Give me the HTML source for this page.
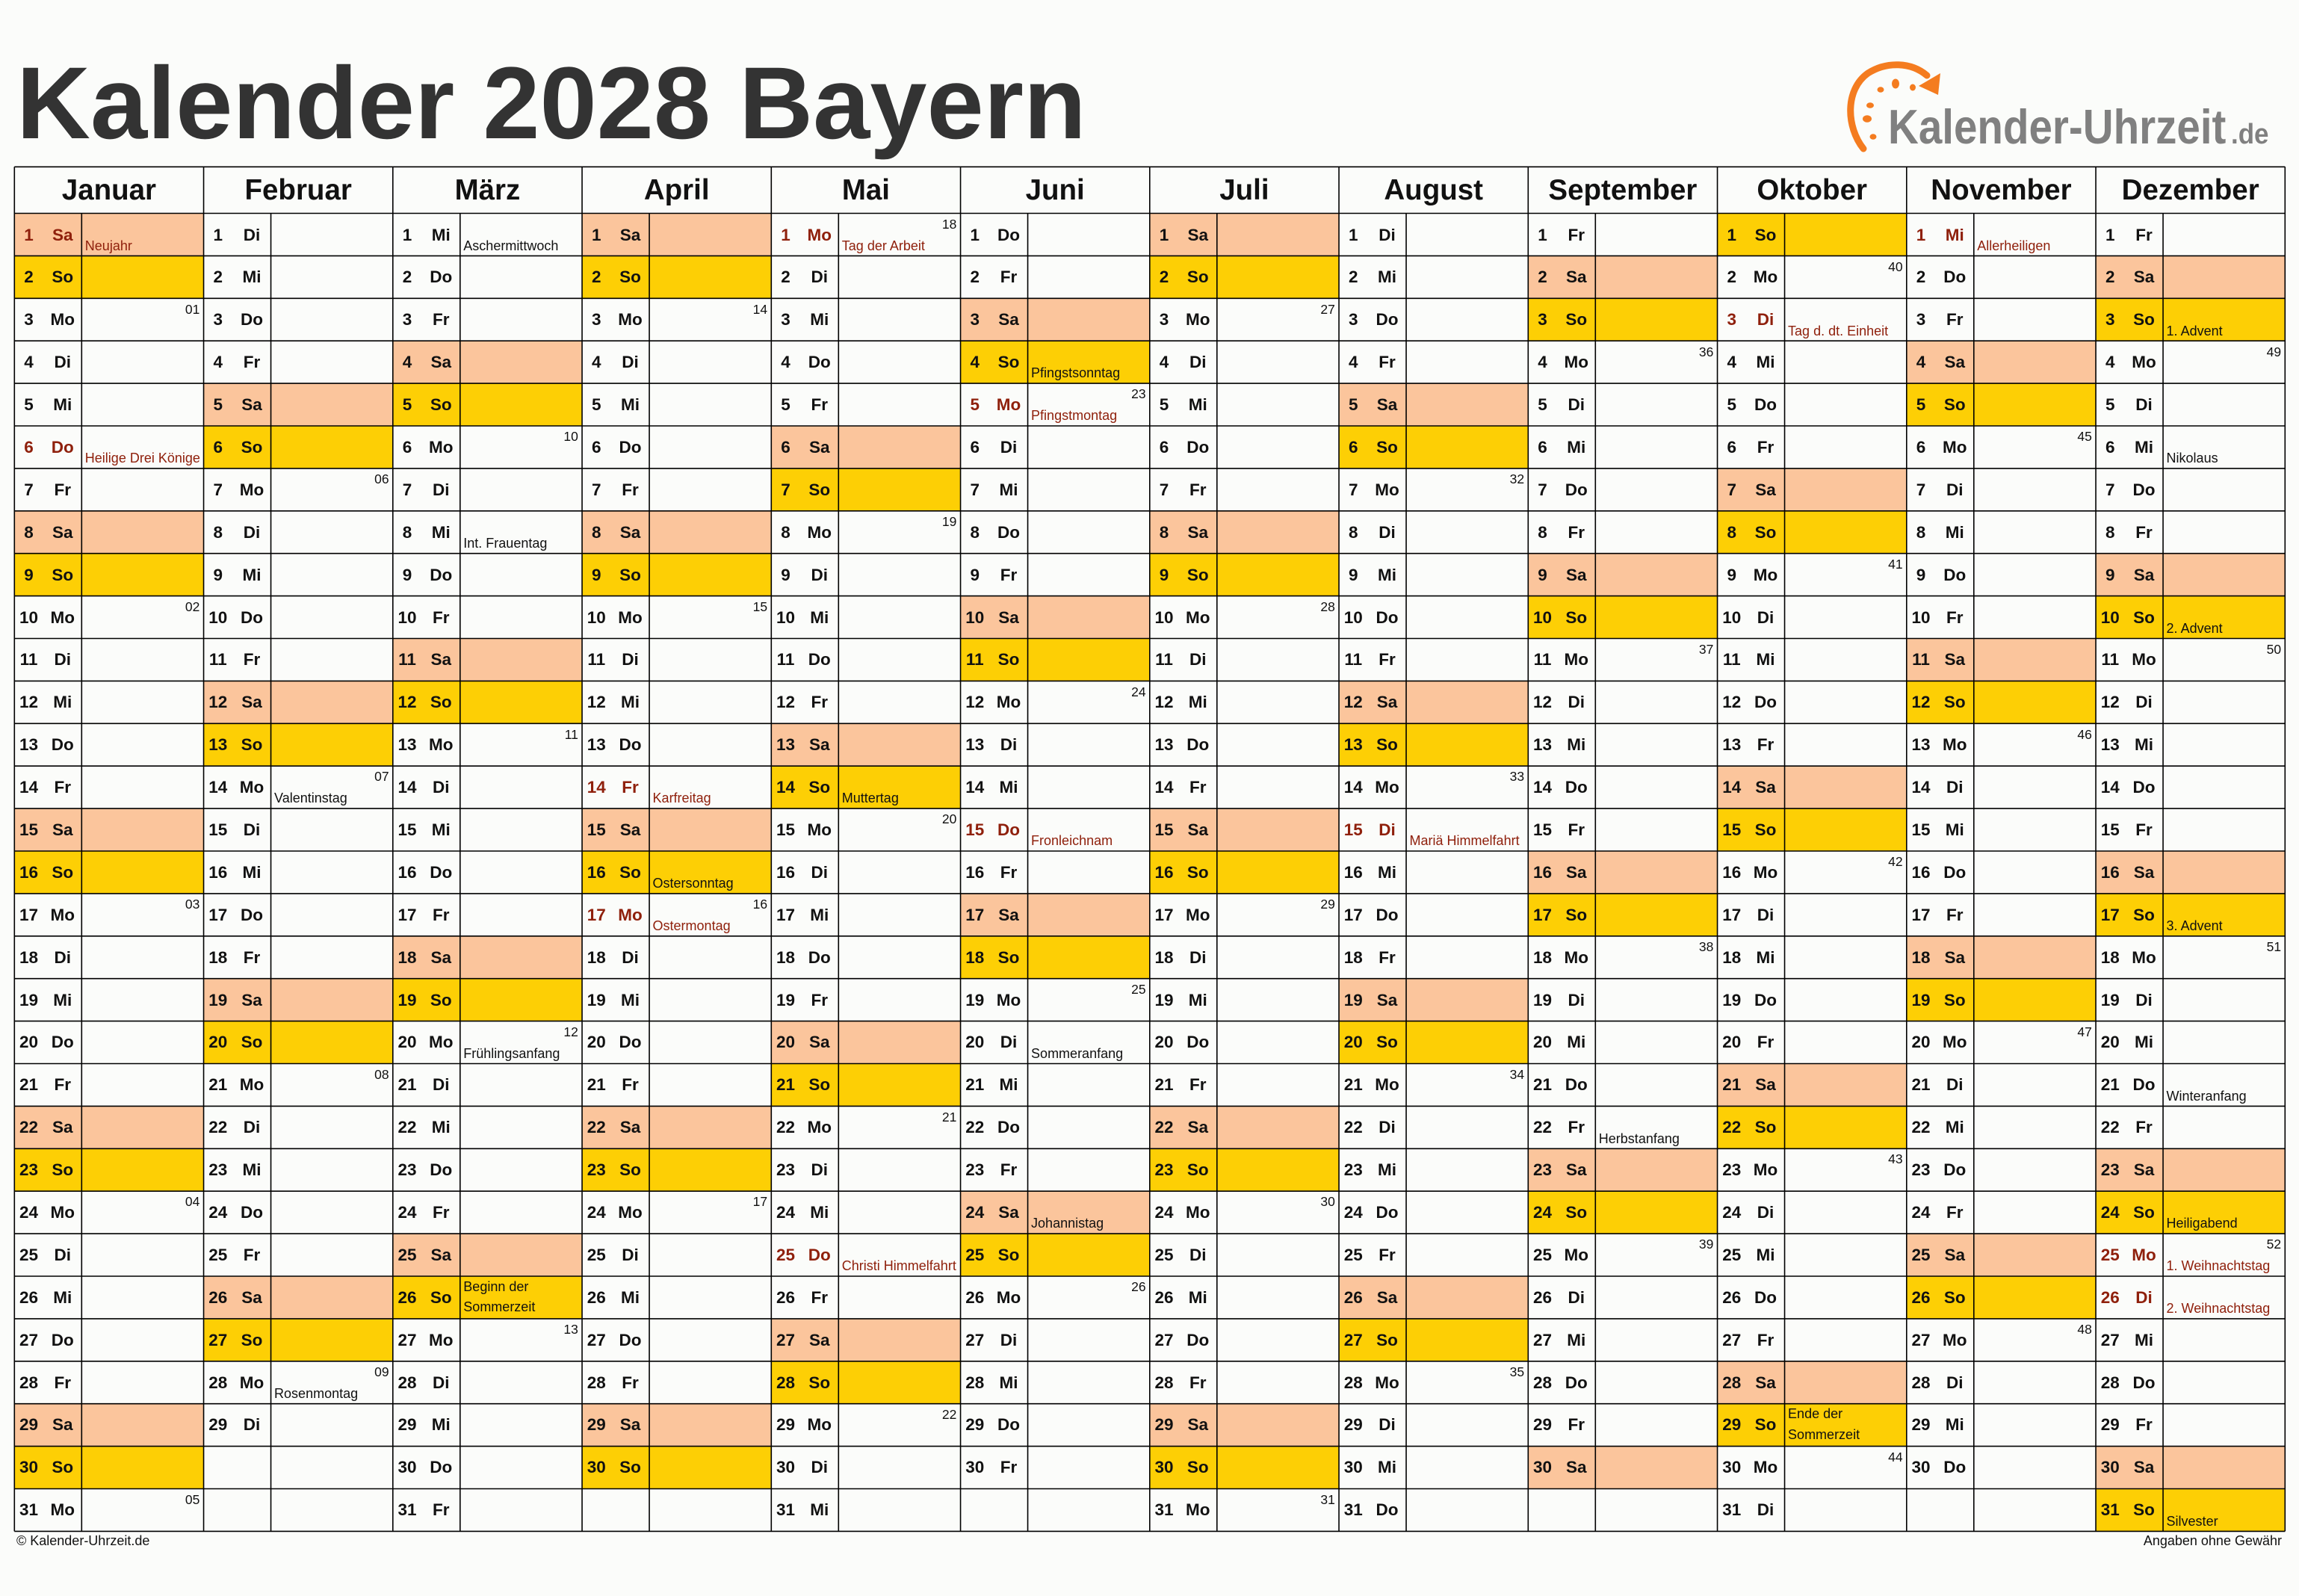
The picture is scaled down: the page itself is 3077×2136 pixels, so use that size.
<!DOCTYPE html>
<html lang="de">
<head>
<meta charset="utf-8">
<title>Kalender 2028 Bayern</title>
<style>
html,body{margin:0;padding:0}
body{width:3077px;height:2136px;background:#fbfcfa;position:relative;overflow:hidden;font-family:"Liberation Sans",Arial,sans-serif;color:#111}
.t{position:absolute;left:22px;top:70px;font-size:137px;line-height:137px;font-weight:bold;color:#333;white-space:nowrap}
.hd{position:absolute;top:223.3px;width:253.25px;height:62.2px;text-align:center;font-size:38.5px;line-height:63.3px;font-weight:bold;color:#111}
.m{position:absolute;top:285.5px;width:253.25px}
.m p{margin:0;height:56.9px;position:relative}
.m b,.m i{position:absolute;top:0;font-size:22.5px;line-height:57.4px;font-weight:bold;font-style:normal;text-align:center;white-space:nowrap}
.m b{left:0;width:38.4px}
.m i{left:44px;width:41px}
.m u{position:absolute;left:94.5px;top:33.3px;font-size:18px;line-height:20px;text-decoration:none;white-space:nowrap}
.m u.w{top:1px;line-height:27.5px}
.m s{position:absolute;right:5.2px;top:4.4px;font-size:17.5px;line-height:20px;text-decoration:none}
.a{background:#fbc59c}
.o{background:#fdcf05}
.h b,.h i,.h u{color:#8f200c}
.f{position:absolute;top:2051.8px;font-size:18px;line-height:20px;white-space:nowrap;color:#111}
svg{position:absolute;left:0;top:0}
</style>
</head>
<body>
<div class="t">Kalender 2028 Bayern</div>

<div class="hd" style="left:19.3px">Januar</div>
<div class="hd" style="left:272.55px">Februar</div>
<div class="hd" style="left:525.8px">März</div>
<div class="hd" style="left:779.05px">April</div>
<div class="hd" style="left:1032.3px">Mai</div>
<div class="hd" style="left:1285.55px">Juni</div>
<div class="hd" style="left:1538.8px">Juli</div>
<div class="hd" style="left:1792.05px">August</div>
<div class="hd" style="left:2045.3px">September</div>
<div class="hd" style="left:2298.55px">Oktober</div>
<div class="hd" style="left:2551.8px">November</div>
<div class="hd" style="left:2805.05px">Dezember</div>

<!-- Januar -->
<div class="m" style="left:19.3px">
<p class="a h"><b>1</b><i>Sa</i><u>Neujahr</u></p>
<p class="o"><b>2</b><i>So</i></p>
<p><b>3</b><i>Mo</i><s>01</s></p>
<p><b>4</b><i>Di</i></p>
<p><b>5</b><i>Mi</i></p>
<p class="h"><b>6</b><i>Do</i><u>Heilige Drei Könige</u></p>
<p><b>7</b><i>Fr</i></p>
<p class="a"><b>8</b><i>Sa</i></p>
<p class="o"><b>9</b><i>So</i></p>
<p><b>10</b><i>Mo</i><s>02</s></p>
<p><b>11</b><i>Di</i></p>
<p><b>12</b><i>Mi</i></p>
<p><b>13</b><i>Do</i></p>
<p><b>14</b><i>Fr</i></p>
<p class="a"><b>15</b><i>Sa</i></p>
<p class="o"><b>16</b><i>So</i></p>
<p><b>17</b><i>Mo</i><s>03</s></p>
<p><b>18</b><i>Di</i></p>
<p><b>19</b><i>Mi</i></p>
<p><b>20</b><i>Do</i></p>
<p><b>21</b><i>Fr</i></p>
<p class="a"><b>22</b><i>Sa</i></p>
<p class="o"><b>23</b><i>So</i></p>
<p><b>24</b><i>Mo</i><s>04</s></p>
<p><b>25</b><i>Di</i></p>
<p><b>26</b><i>Mi</i></p>
<p><b>27</b><i>Do</i></p>
<p><b>28</b><i>Fr</i></p>
<p class="a"><b>29</b><i>Sa</i></p>
<p class="o"><b>30</b><i>So</i></p>
<p><b>31</b><i>Mo</i><s>05</s></p>
</div>

<!-- Februar -->
<div class="m" style="left:272.55px">
<p><b>1</b><i>Di</i></p>
<p><b>2</b><i>Mi</i></p>
<p><b>3</b><i>Do</i></p>
<p><b>4</b><i>Fr</i></p>
<p class="a"><b>5</b><i>Sa</i></p>
<p class="o"><b>6</b><i>So</i></p>
<p><b>7</b><i>Mo</i><s>06</s></p>
<p><b>8</b><i>Di</i></p>
<p><b>9</b><i>Mi</i></p>
<p><b>10</b><i>Do</i></p>
<p><b>11</b><i>Fr</i></p>
<p class="a"><b>12</b><i>Sa</i></p>
<p class="o"><b>13</b><i>So</i></p>
<p><b>14</b><i>Mo</i><s>07</s><u>Valentinstag</u></p>
<p><b>15</b><i>Di</i></p>
<p><b>16</b><i>Mi</i></p>
<p><b>17</b><i>Do</i></p>
<p><b>18</b><i>Fr</i></p>
<p class="a"><b>19</b><i>Sa</i></p>
<p class="o"><b>20</b><i>So</i></p>
<p><b>21</b><i>Mo</i><s>08</s></p>
<p><b>22</b><i>Di</i></p>
<p><b>23</b><i>Mi</i></p>
<p><b>24</b><i>Do</i></p>
<p><b>25</b><i>Fr</i></p>
<p class="a"><b>26</b><i>Sa</i></p>
<p class="o"><b>27</b><i>So</i></p>
<p><b>28</b><i>Mo</i><s>09</s><u>Rosenmontag</u></p>
<p><b>29</b><i>Di</i></p>
<p></p>
<p></p>
</div>

<!-- März -->
<div class="m" style="left:525.8px">
<p><b>1</b><i>Mi</i><u>Aschermittwoch</u></p>
<p><b>2</b><i>Do</i></p>
<p><b>3</b><i>Fr</i></p>
<p class="a"><b>4</b><i>Sa</i></p>
<p class="o"><b>5</b><i>So</i></p>
<p><b>6</b><i>Mo</i><s>10</s></p>
<p><b>7</b><i>Di</i></p>
<p><b>8</b><i>Mi</i><u>Int. Frauentag</u></p>
<p><b>9</b><i>Do</i></p>
<p><b>10</b><i>Fr</i></p>
<p class="a"><b>11</b><i>Sa</i></p>
<p class="o"><b>12</b><i>So</i></p>
<p><b>13</b><i>Mo</i><s>11</s></p>
<p><b>14</b><i>Di</i></p>
<p><b>15</b><i>Mi</i></p>
<p><b>16</b><i>Do</i></p>
<p><b>17</b><i>Fr</i></p>
<p class="a"><b>18</b><i>Sa</i></p>
<p class="o"><b>19</b><i>So</i></p>
<p><b>20</b><i>Mo</i><s>12</s><u>Frühlingsanfang</u></p>
<p><b>21</b><i>Di</i></p>
<p><b>22</b><i>Mi</i></p>
<p><b>23</b><i>Do</i></p>
<p><b>24</b><i>Fr</i></p>
<p class="a"><b>25</b><i>Sa</i></p>
<p class="o"><b>26</b><i>So</i><u class="w">Beginn der<br>Sommerzeit</u></p>
<p><b>27</b><i>Mo</i><s>13</s></p>
<p><b>28</b><i>Di</i></p>
<p><b>29</b><i>Mi</i></p>
<p><b>30</b><i>Do</i></p>
<p><b>31</b><i>Fr</i></p>
</div>

<!-- April -->
<div class="m" style="left:779.05px">
<p class="a"><b>1</b><i>Sa</i></p>
<p class="o"><b>2</b><i>So</i></p>
<p><b>3</b><i>Mo</i><s>14</s></p>
<p><b>4</b><i>Di</i></p>
<p><b>5</b><i>Mi</i></p>
<p><b>6</b><i>Do</i></p>
<p><b>7</b><i>Fr</i></p>
<p class="a"><b>8</b><i>Sa</i></p>
<p class="o"><b>9</b><i>So</i></p>
<p><b>10</b><i>Mo</i><s>15</s></p>
<p><b>11</b><i>Di</i></p>
<p><b>12</b><i>Mi</i></p>
<p><b>13</b><i>Do</i></p>
<p class="h"><b>14</b><i>Fr</i><u>Karfreitag</u></p>
<p class="a"><b>15</b><i>Sa</i></p>
<p class="o"><b>16</b><i>So</i><u>Ostersonntag</u></p>
<p class="h"><b>17</b><i>Mo</i><s>16</s><u>Ostermontag</u></p>
<p><b>18</b><i>Di</i></p>
<p><b>19</b><i>Mi</i></p>
<p><b>20</b><i>Do</i></p>
<p><b>21</b><i>Fr</i></p>
<p class="a"><b>22</b><i>Sa</i></p>
<p class="o"><b>23</b><i>So</i></p>
<p><b>24</b><i>Mo</i><s>17</s></p>
<p><b>25</b><i>Di</i></p>
<p><b>26</b><i>Mi</i></p>
<p><b>27</b><i>Do</i></p>
<p><b>28</b><i>Fr</i></p>
<p class="a"><b>29</b><i>Sa</i></p>
<p class="o"><b>30</b><i>So</i></p>
<p></p>
</div>

<!-- Mai -->
<div class="m" style="left:1032.3px">
<p class="h"><b>1</b><i>Mo</i><s>18</s><u>Tag der Arbeit</u></p>
<p><b>2</b><i>Di</i></p>
<p><b>3</b><i>Mi</i></p>
<p><b>4</b><i>Do</i></p>
<p><b>5</b><i>Fr</i></p>
<p class="a"><b>6</b><i>Sa</i></p>
<p class="o"><b>7</b><i>So</i></p>
<p><b>8</b><i>Mo</i><s>19</s></p>
<p><b>9</b><i>Di</i></p>
<p><b>10</b><i>Mi</i></p>
<p><b>11</b><i>Do</i></p>
<p><b>12</b><i>Fr</i></p>
<p class="a"><b>13</b><i>Sa</i></p>
<p class="o"><b>14</b><i>So</i><u>Muttertag</u></p>
<p><b>15</b><i>Mo</i><s>20</s></p>
<p><b>16</b><i>Di</i></p>
<p><b>17</b><i>Mi</i></p>
<p><b>18</b><i>Do</i></p>
<p><b>19</b><i>Fr</i></p>
<p class="a"><b>20</b><i>Sa</i></p>
<p class="o"><b>21</b><i>So</i></p>
<p><b>22</b><i>Mo</i><s>21</s></p>
<p><b>23</b><i>Di</i></p>
<p><b>24</b><i>Mi</i></p>
<p class="h"><b>25</b><i>Do</i><u>Christi Himmelfahrt</u></p>
<p><b>26</b><i>Fr</i></p>
<p class="a"><b>27</b><i>Sa</i></p>
<p class="o"><b>28</b><i>So</i></p>
<p><b>29</b><i>Mo</i><s>22</s></p>
<p><b>30</b><i>Di</i></p>
<p><b>31</b><i>Mi</i></p>
</div>

<!-- Juni -->
<div class="m" style="left:1285.55px">
<p><b>1</b><i>Do</i></p>
<p><b>2</b><i>Fr</i></p>
<p class="a"><b>3</b><i>Sa</i></p>
<p class="o"><b>4</b><i>So</i><u>Pfingstsonntag</u></p>
<p class="h"><b>5</b><i>Mo</i><s>23</s><u>Pfingstmontag</u></p>
<p><b>6</b><i>Di</i></p>
<p><b>7</b><i>Mi</i></p>
<p><b>8</b><i>Do</i></p>
<p><b>9</b><i>Fr</i></p>
<p class="a"><b>10</b><i>Sa</i></p>
<p class="o"><b>11</b><i>So</i></p>
<p><b>12</b><i>Mo</i><s>24</s></p>
<p><b>13</b><i>Di</i></p>
<p><b>14</b><i>Mi</i></p>
<p class="h"><b>15</b><i>Do</i><u>Fronleichnam</u></p>
<p><b>16</b><i>Fr</i></p>
<p class="a"><b>17</b><i>Sa</i></p>
<p class="o"><b>18</b><i>So</i></p>
<p><b>19</b><i>Mo</i><s>25</s></p>
<p><b>20</b><i>Di</i><u>Sommeranfang</u></p>
<p><b>21</b><i>Mi</i></p>
<p><b>22</b><i>Do</i></p>
<p><b>23</b><i>Fr</i></p>
<p class="a"><b>24</b><i>Sa</i><u>Johannistag</u></p>
<p class="o"><b>25</b><i>So</i></p>
<p><b>26</b><i>Mo</i><s>26</s></p>
<p><b>27</b><i>Di</i></p>
<p><b>28</b><i>Mi</i></p>
<p><b>29</b><i>Do</i></p>
<p><b>30</b><i>Fr</i></p>
<p></p>
</div>

<!-- Juli -->
<div class="m" style="left:1538.8px">
<p class="a"><b>1</b><i>Sa</i></p>
<p class="o"><b>2</b><i>So</i></p>
<p><b>3</b><i>Mo</i><s>27</s></p>
<p><b>4</b><i>Di</i></p>
<p><b>5</b><i>Mi</i></p>
<p><b>6</b><i>Do</i></p>
<p><b>7</b><i>Fr</i></p>
<p class="a"><b>8</b><i>Sa</i></p>
<p class="o"><b>9</b><i>So</i></p>
<p><b>10</b><i>Mo</i><s>28</s></p>
<p><b>11</b><i>Di</i></p>
<p><b>12</b><i>Mi</i></p>
<p><b>13</b><i>Do</i></p>
<p><b>14</b><i>Fr</i></p>
<p class="a"><b>15</b><i>Sa</i></p>
<p class="o"><b>16</b><i>So</i></p>
<p><b>17</b><i>Mo</i><s>29</s></p>
<p><b>18</b><i>Di</i></p>
<p><b>19</b><i>Mi</i></p>
<p><b>20</b><i>Do</i></p>
<p><b>21</b><i>Fr</i></p>
<p class="a"><b>22</b><i>Sa</i></p>
<p class="o"><b>23</b><i>So</i></p>
<p><b>24</b><i>Mo</i><s>30</s></p>
<p><b>25</b><i>Di</i></p>
<p><b>26</b><i>Mi</i></p>
<p><b>27</b><i>Do</i></p>
<p><b>28</b><i>Fr</i></p>
<p class="a"><b>29</b><i>Sa</i></p>
<p class="o"><b>30</b><i>So</i></p>
<p><b>31</b><i>Mo</i><s>31</s></p>
</div>

<!-- August -->
<div class="m" style="left:1792.05px">
<p><b>1</b><i>Di</i></p>
<p><b>2</b><i>Mi</i></p>
<p><b>3</b><i>Do</i></p>
<p><b>4</b><i>Fr</i></p>
<p class="a"><b>5</b><i>Sa</i></p>
<p class="o"><b>6</b><i>So</i></p>
<p><b>7</b><i>Mo</i><s>32</s></p>
<p><b>8</b><i>Di</i></p>
<p><b>9</b><i>Mi</i></p>
<p><b>10</b><i>Do</i></p>
<p><b>11</b><i>Fr</i></p>
<p class="a"><b>12</b><i>Sa</i></p>
<p class="o"><b>13</b><i>So</i></p>
<p><b>14</b><i>Mo</i><s>33</s></p>
<p class="h"><b>15</b><i>Di</i><u>Mariä Himmelfahrt</u></p>
<p><b>16</b><i>Mi</i></p>
<p><b>17</b><i>Do</i></p>
<p><b>18</b><i>Fr</i></p>
<p class="a"><b>19</b><i>Sa</i></p>
<p class="o"><b>20</b><i>So</i></p>
<p><b>21</b><i>Mo</i><s>34</s></p>
<p><b>22</b><i>Di</i></p>
<p><b>23</b><i>Mi</i></p>
<p><b>24</b><i>Do</i></p>
<p><b>25</b><i>Fr</i></p>
<p class="a"><b>26</b><i>Sa</i></p>
<p class="o"><b>27</b><i>So</i></p>
<p><b>28</b><i>Mo</i><s>35</s></p>
<p><b>29</b><i>Di</i></p>
<p><b>30</b><i>Mi</i></p>
<p><b>31</b><i>Do</i></p>
</div>

<!-- September -->
<div class="m" style="left:2045.3px">
<p><b>1</b><i>Fr</i></p>
<p class="a"><b>2</b><i>Sa</i></p>
<p class="o"><b>3</b><i>So</i></p>
<p><b>4</b><i>Mo</i><s>36</s></p>
<p><b>5</b><i>Di</i></p>
<p><b>6</b><i>Mi</i></p>
<p><b>7</b><i>Do</i></p>
<p><b>8</b><i>Fr</i></p>
<p class="a"><b>9</b><i>Sa</i></p>
<p class="o"><b>10</b><i>So</i></p>
<p><b>11</b><i>Mo</i><s>37</s></p>
<p><b>12</b><i>Di</i></p>
<p><b>13</b><i>Mi</i></p>
<p><b>14</b><i>Do</i></p>
<p><b>15</b><i>Fr</i></p>
<p class="a"><b>16</b><i>Sa</i></p>
<p class="o"><b>17</b><i>So</i></p>
<p><b>18</b><i>Mo</i><s>38</s></p>
<p><b>19</b><i>Di</i></p>
<p><b>20</b><i>Mi</i></p>
<p><b>21</b><i>Do</i></p>
<p><b>22</b><i>Fr</i><u>Herbstanfang</u></p>
<p class="a"><b>23</b><i>Sa</i></p>
<p class="o"><b>24</b><i>So</i></p>
<p><b>25</b><i>Mo</i><s>39</s></p>
<p><b>26</b><i>Di</i></p>
<p><b>27</b><i>Mi</i></p>
<p><b>28</b><i>Do</i></p>
<p><b>29</b><i>Fr</i></p>
<p class="a"><b>30</b><i>Sa</i></p>
<p></p>
</div>

<!-- Oktober -->
<div class="m" style="left:2298.55px">
<p class="o"><b>1</b><i>So</i></p>
<p><b>2</b><i>Mo</i><s>40</s></p>
<p class="h"><b>3</b><i>Di</i><u>Tag d. dt. Einheit</u></p>
<p><b>4</b><i>Mi</i></p>
<p><b>5</b><i>Do</i></p>
<p><b>6</b><i>Fr</i></p>
<p class="a"><b>7</b><i>Sa</i></p>
<p class="o"><b>8</b><i>So</i></p>
<p><b>9</b><i>Mo</i><s>41</s></p>
<p><b>10</b><i>Di</i></p>
<p><b>11</b><i>Mi</i></p>
<p><b>12</b><i>Do</i></p>
<p><b>13</b><i>Fr</i></p>
<p class="a"><b>14</b><i>Sa</i></p>
<p class="o"><b>15</b><i>So</i></p>
<p><b>16</b><i>Mo</i><s>42</s></p>
<p><b>17</b><i>Di</i></p>
<p><b>18</b><i>Mi</i></p>
<p><b>19</b><i>Do</i></p>
<p><b>20</b><i>Fr</i></p>
<p class="a"><b>21</b><i>Sa</i></p>
<p class="o"><b>22</b><i>So</i></p>
<p><b>23</b><i>Mo</i><s>43</s></p>
<p><b>24</b><i>Di</i></p>
<p><b>25</b><i>Mi</i></p>
<p><b>26</b><i>Do</i></p>
<p><b>27</b><i>Fr</i></p>
<p class="a"><b>28</b><i>Sa</i></p>
<p class="o"><b>29</b><i>So</i><u class="w">Ende der<br>Sommerzeit</u></p>
<p><b>30</b><i>Mo</i><s>44</s></p>
<p><b>31</b><i>Di</i></p>
</div>

<!-- November -->
<div class="m" style="left:2551.8px">
<p class="h"><b>1</b><i>Mi</i><u>Allerheiligen</u></p>
<p><b>2</b><i>Do</i></p>
<p><b>3</b><i>Fr</i></p>
<p class="a"><b>4</b><i>Sa</i></p>
<p class="o"><b>5</b><i>So</i></p>
<p><b>6</b><i>Mo</i><s>45</s></p>
<p><b>7</b><i>Di</i></p>
<p><b>8</b><i>Mi</i></p>
<p><b>9</b><i>Do</i></p>
<p><b>10</b><i>Fr</i></p>
<p class="a"><b>11</b><i>Sa</i></p>
<p class="o"><b>12</b><i>So</i></p>
<p><b>13</b><i>Mo</i><s>46</s></p>
<p><b>14</b><i>Di</i></p>
<p><b>15</b><i>Mi</i></p>
<p><b>16</b><i>Do</i></p>
<p><b>17</b><i>Fr</i></p>
<p class="a"><b>18</b><i>Sa</i></p>
<p class="o"><b>19</b><i>So</i></p>
<p><b>20</b><i>Mo</i><s>47</s></p>
<p><b>21</b><i>Di</i></p>
<p><b>22</b><i>Mi</i></p>
<p><b>23</b><i>Do</i></p>
<p><b>24</b><i>Fr</i></p>
<p class="a"><b>25</b><i>Sa</i></p>
<p class="o"><b>26</b><i>So</i></p>
<p><b>27</b><i>Mo</i><s>48</s></p>
<p><b>28</b><i>Di</i></p>
<p><b>29</b><i>Mi</i></p>
<p><b>30</b><i>Do</i></p>
<p></p>
</div>

<!-- Dezember -->
<div class="m" style="left:2805.05px">
<p><b>1</b><i>Fr</i></p>
<p class="a"><b>2</b><i>Sa</i></p>
<p class="o"><b>3</b><i>So</i><u>1. Advent</u></p>
<p><b>4</b><i>Mo</i><s>49</s></p>
<p><b>5</b><i>Di</i></p>
<p><b>6</b><i>Mi</i><u>Nikolaus</u></p>
<p><b>7</b><i>Do</i></p>
<p><b>8</b><i>Fr</i></p>
<p class="a"><b>9</b><i>Sa</i></p>
<p class="o"><b>10</b><i>So</i><u>2. Advent</u></p>
<p><b>11</b><i>Mo</i><s>50</s></p>
<p><b>12</b><i>Di</i></p>
<p><b>13</b><i>Mi</i></p>
<p><b>14</b><i>Do</i></p>
<p><b>15</b><i>Fr</i></p>
<p class="a"><b>16</b><i>Sa</i></p>
<p class="o"><b>17</b><i>So</i><u>3. Advent</u></p>
<p><b>18</b><i>Mo</i><s>51</s></p>
<p><b>19</b><i>Di</i></p>
<p><b>20</b><i>Mi</i></p>
<p><b>21</b><i>Do</i><u>Winteranfang</u></p>
<p><b>22</b><i>Fr</i></p>
<p class="a"><b>23</b><i>Sa</i></p>
<p class="o"><b>24</b><i>So</i><u>Heiligabend</u></p>
<p class="h"><b>25</b><i>Mo</i><s>52</s><u>1. Weihnachtstag</u></p>
<p class="h"><b>26</b><i>Di</i><u>2. Weihnachtstag</u></p>
<p><b>27</b><i>Mi</i></p>
<p><b>28</b><i>Do</i></p>
<p><b>29</b><i>Fr</i></p>
<p class="a"><b>30</b><i>Sa</i></p>
<p class="o"><b>31</b><i>So</i><u>Silvester</u></p>
</div>

<div class="f" style="left:22px">© Kalender-Uhrzeit.de</div>
<div class="f" style="right:23px">Angaben ohne Gewähr</div>

<svg width="3077" height="2136" viewBox="0 0 3077 2136">
<g fill="none" stroke="#000" stroke-width="1.6">
<path d="M19.3 223.3H3058.3M19.3 285.5H3058.3M19.3 342.4H3058.3M19.3 399.3H3058.3M19.3 456.2H3058.3M19.3 513.1H3058.3M19.3 570H3058.3M19.3 626.9H3058.3M19.3 683.8H3058.3M19.3 740.7H3058.3M19.3 797.6H3058.3M19.3 854.5H3058.3M19.3 911.4H3058.3M19.3 968.3H3058.3M19.3 1025.2H3058.3M19.3 1082.1H3058.3M19.3 1139H3058.3M19.3 1195.9H3058.3M19.3 1252.8H3058.3M19.3 1309.7H3058.3M19.3 1366.6H3058.3M19.3 1423.5H3058.3M19.3 1480.4H3058.3M19.3 1537.3H3058.3M19.3 1594.2H3058.3M19.3 1651.1H3058.3M19.3 1708H3058.3M19.3 1764.9H3058.3M19.3 1821.8H3058.3M19.3 1878.7H3058.3M19.3 1935.6H3058.3M19.3 1992.5H3058.3M19.3 2049.4H3058.3"/>
<path d="M19.3 223.3V2049.4M272.55 223.3V2049.4M525.8 223.3V2049.4M779.05 223.3V2049.4M1032.3 223.3V2049.4M1285.55 223.3V2049.4M1538.8 223.3V2049.4M1792.05 223.3V2049.4M2045.3 223.3V2049.4M2298.55 223.3V2049.4M2551.8 223.3V2049.4M2805.05 223.3V2049.4M3058.3 223.3V2049.4"/>
<path d="M109.3 285.5V2049.4M362.55 285.5V2049.4M615.8 285.5V2049.4M869.05 285.5V2049.4M1122.3 285.5V2049.4M1375.55 285.5V2049.4M1628.8 285.5V2049.4M1882.05 285.5V2049.4M2135.3 285.5V2049.4M2388.55 285.5V2049.4M2641.8 285.5V2049.4M2895.05 285.5V2049.4"/>
</g>
<!-- Logo -->
<g fill="#f47c20">
<path d="M2494 199 C2471 170 2469 120 2500 98 C2525 82 2558 83 2579 101" fill="none" stroke="#f47c20" stroke-width="9" stroke-linecap="round"/>
<polygon points="2568,115 2597,98 2594,127"/>
<ellipse cx="2517" cy="120" rx="4.5" ry="3.8"/>
<ellipse cx="2537" cy="112" rx="5" ry="6.5"/>
<ellipse cx="2560" cy="117" rx="4" ry="4.5"/>
<ellipse cx="2503" cy="141" rx="5" ry="3.8"/>
<ellipse cx="2499" cy="159" rx="6" ry="4.8"/>
<ellipse cx="2507" cy="183" rx="4.5" ry="3.8"/>
</g>
<text transform="translate(2527 192) scale(0.87 1)" x="0" y="0" font-family="Liberation Sans, Arial, sans-serif" font-size="65" font-weight="bold" fill="#808080">Kalender-Uhrzeit</text>
<text transform="translate(2986 192) scale(0.92 1)" x="0" y="0" font-family="Liberation Sans, Arial, sans-serif" font-size="38" font-weight="bold" fill="#808080">.de</text>
</svg>
</body>
</html>
